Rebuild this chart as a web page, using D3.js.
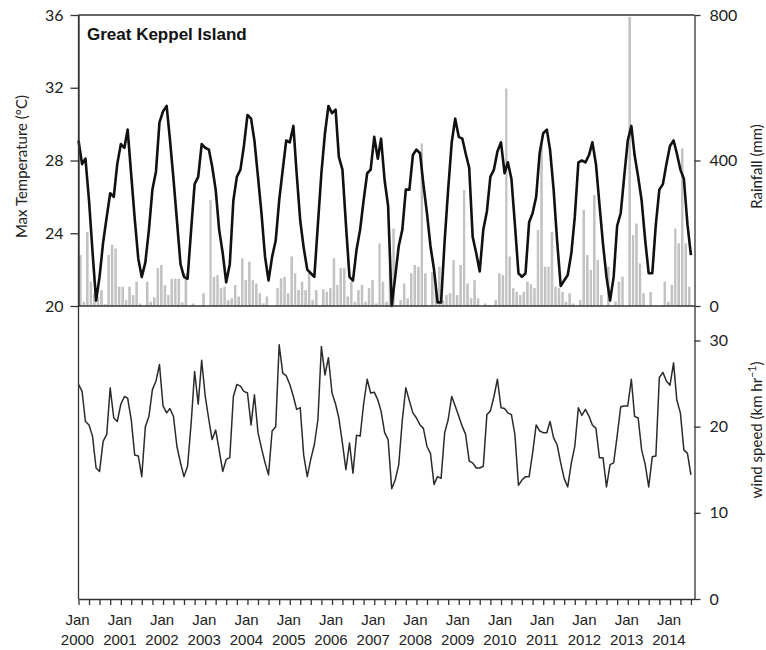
<!DOCTYPE html>
<html><head><meta charset="utf-8">
<script src="https://cdn.jsdelivr.net/npm/d3@7"></script>
<style>body{margin:0;background:#fff}</style>
</head><body>
<svg id="chart" width="766" height="650"></svg>
<script>
const startYear = 2000;
const maxTemp = [
29.1, 27.8, 28.1, 25.8, 23.0, 20.3, 21.6, 23.5, 24.9, 26.2, 26.0, 27.8,
28.9, 28.7, 29.7, 27.2, 24.8, 22.6, 21.6, 22.4, 24.2, 26.4, 27.4, 30.1,
30.7, 31.0, 29.2, 27.0, 24.7, 22.3, 21.6, 21.5, 24.2, 26.7, 27.1, 28.9,
28.7, 28.6, 27.7, 26.4, 24.2, 22.9, 21.3, 22.3, 25.8, 27.1, 27.5, 28.8,
30.5, 30.3, 29.1, 27.1, 25.1, 22.7, 21.4, 22.7, 23.6, 25.8, 27.5, 29.1,
29.0, 29.9, 27.3, 24.7, 23.2, 22.0, 21.8, 21.6, 24.5, 27.3, 29.5, 31.0,
30.6, 30.8, 28.2, 27.5, 24.5, 21.6, 21.4, 23.1, 24.2, 25.8, 27.3, 27.5,
29.3, 28.1, 29.2, 26.9, 25.5, 20.0, 21.6, 23.3, 24.2, 26.4, 26.4, 28.3,
28.6, 28.4, 26.7, 25.1, 23.3, 22.0, 20.2, 20.2, 23.6, 26.4, 29.0, 30.3,
29.3, 29.2, 28.4, 27.6, 23.8, 22.9, 21.9, 24.2, 25.2, 27.1, 27.5, 28.5,
29.0, 27.3, 27.9, 27.0, 24.5, 21.8, 21.6, 21.8, 24.6, 25.1, 26.0, 28.4,
29.5, 29.7, 28.6, 26.4, 23.6, 21.1, 21.4, 21.7, 22.9, 24.9, 27.9, 28.0,
27.9, 28.3, 29.0, 27.8, 25.6, 23.4, 21.6, 20.3, 21.6, 24.4, 25.1, 27.1,
29.1, 29.9, 28.3, 27.1, 25.8, 23.6, 21.8, 21.8, 24.5, 26.4, 26.7, 27.8,
28.8, 29.1, 28.4, 27.5, 27.0, 24.5, 22.8
];
const rainfall = [
140, 12, 204, 67, 35, 26, 44, 5, 140, 168, 158, 53,
53, 16, 53, 30, 67, 7, 0, 67, 12, 24, 104, 113,
57, 30, 75, 75, 75, 10, 90, 0, 7, 0, 0, 35,
0, 291, 80, 85, 49, 53, 16, 21, 58, 26, 131, 71,
122, 71, 62, 35, 7, 26, 0, 0, 49, 76, 80, 35,
136, 90, 44, 67, 44, 90, 16, 44, 0, 46, 39, 49,
131, 58, 104, 104, 26, 67, 12, 44, 58, 12, 49, 71,
7, 172, 67, 12, 104, 213, 0, 16, 62, 21, 90, 113,
108, 447, 90, 0, 94, 49, 108, 16, 30, 35, 126, 30,
113, 319, 62, 21, 71, 21, 0, 7, 3, 0, 16, 90,
85, 598, 136, 49, 39, 30, 39, 67, 60, 49, 209, 443,
108, 108, 204, 53, 49, 39, 12, 35, 7, 0, 16, 264,
140, 99, 305, 126, 30, 0, 108, 0, 12, 67, 81, 0,
795, 195, 227, 117, 35, 0, 39, 0, 0, 0, 67, 12,
58, 213, 172, 433, 172, 53, 0
];
const windSpeed = [
24.9, 24.1, 20.6, 20.2, 18.9, 15.2, 14.8, 18.3, 19.1, 24.5, 21.0, 20.6,
22.6, 23.5, 23.3, 20.8, 16.7, 16.6, 14.2, 20.0, 21.2, 24.3, 25.3, 27.2,
22.4, 21.6, 22.1, 21.2, 17.7, 15.8, 14.2, 15.4, 20.4, 26.4, 22.6, 27.7,
23.5, 20.8, 18.5, 19.6, 17.3, 14.8, 16.2, 16.4, 23.5, 24.9, 24.7, 24.1,
23.9, 20.2, 23.7, 19.3, 17.5, 15.8, 14.4, 19.5, 20.0, 29.5, 26.2, 25.9,
24.9, 23.5, 22.0, 22.2, 16.7, 14.2, 16.2, 17.9, 20.8, 29.3, 26.0, 28.0,
23.9, 22.6, 21.0, 18.1, 15.0, 18.1, 14.6, 19.0, 18.9, 22.6, 25.5, 23.9,
24.0, 23.1, 21.8, 19.3, 18.5, 12.8, 13.8, 15.6, 20.8, 24.5, 23.0, 21.6,
21.0, 20.2, 19.8, 17.7, 16.9, 13.3, 14.2, 14.0, 19.3, 20.8, 23.5, 22.4,
21.2, 20.0, 19.1, 16.0, 15.8, 15.2, 15.2, 15.4, 21.4, 21.8, 23.5, 25.5,
22.2, 22.1, 21.6, 21.4, 19.1, 13.2, 13.8, 14.2, 14.2, 16.9, 20.2, 19.5,
19.3, 19.3, 20.6, 18.7, 17.9, 15.8, 14.0, 13.0, 15.8, 17.7, 22.2, 21.3,
22.0, 21.2, 20.2, 19.8, 16.4, 16.4, 13.0, 15.6, 15.8, 18.9, 22.3, 22.4,
22.4, 25.5, 21.2, 21.0, 17.3, 15.6, 13.0, 16.5, 16.6, 25.7, 26.3, 25.3,
24.8, 27.4, 23.1, 21.6, 17.3, 16.9, 14.4
];
const tempTicks = [20, 24, 28, 32, 36];
const rainTicks = [0, 400, 800];
const windTicks = [0, 10, 20, 30];
const yearLabels = [2000, 2001, 2002, 2003, 2004, 2005, 2006, 2007, 2008, 2009, 2010, 2011, 2012, 2013, 2014];
const monthLabel = "Jan";
const title = "Great Keppel Island";

const dates = maxTemp.map((d, i) => new Date(startYear, i, 1));
const svg = d3.select("#chart");
const L = 78.5, R = 694.5, T = 15, M = 306, B = 599;
const axisColor = "#333";

const x = d3.scaleTime().domain([new Date(2000, 0, 1), new Date(2014, 7, 1)]).range([L, R]);
const yT = d3.scaleLinear().domain([20, 36]).range([M, T]);
const yR = d3.scaleLinear().domain([0, 800]).range([M, T]);
const yW = d3.scaleLinear().domain([0, 34]).range([B, M]);

// rainfall bars
svg.append("g").selectAll("rect").data(rainfall).join("rect")
  .attr("x", (d, i) => x(dates[i]) + 0.6)
  .attr("width", (d, i) => x(new Date(startYear, i + 1, 1)) - x(dates[i]) - 1.0)
  .attr("y", d => yR(d))
  .attr("height", d => M - yR(d))
  .attr("fill", "#c2c2c2");

// temperature line
svg.append("path").datum(maxTemp)
  .attr("fill", "none").attr("stroke", "#111").attr("stroke-width", 2.6)
  .attr("stroke-linejoin", "round")
  .attr("d", d3.line().x((d, i) => x(dates[i])).y(d => yT(d)));

// wind line
svg.append("path").datum(windSpeed)
  .attr("fill", "none").attr("stroke", "#2b2b2b").attr("stroke-width", 1.5)
  .attr("stroke-linejoin", "round")
  .attr("d", d3.line().x((d, i) => x(dates[i])).y(d => yW(d)));

function styleAxis(g, font, size) {
  g.selectAll("path,line").attr("stroke", axisColor).attr("stroke-width", 1.3);
  g.selectAll("text").attr("fill", "#222").style("font-family", font).style("font-size", size + "px");
}

// frame lines
svg.append("line").attr("x1", L).attr("x2", R).attr("y1", T).attr("y2", T).attr("stroke", axisColor).attr("stroke-width", 1.3);
svg.append("line").attr("x1", L).attr("x2", R).attr("y1", M).attr("y2", M).attr("stroke", axisColor).attr("stroke-width", 1.3);
svg.append("line").attr("x1", L).attr("x2", L).attr("y1", T).attr("y2", B).attr("stroke", axisColor).attr("stroke-width", 1.3);

const tfont = "Lato, 'Open Sans', sans-serif";

// left temperature axis
svg.append("g").attr("transform", `translate(${L},0)`)
  .call(d3.axisLeft(yT).tickValues(tempTicks).tickSize(8).tickSizeOuter(0).tickPadding(7))
  .call(g => styleAxis(g, tfont, 16));

// right rainfall axis
svg.append("g").attr("transform", `translate(${R},0)`)
  .call(d3.axisRight(yR).tickValues(rainTicks).tickSize(6).tickSizeOuter(0).tickPadding(9))
  .call(g => styleAxis(g, tfont, 16));

// right wind axis
svg.append("g").attr("transform", `translate(${R},0)`)
  .call(d3.axisRight(yW).tickValues(windTicks).tickSize(6).tickSizeOuter(0).tickPadding(9))
  .call(g => styleAxis(g, tfont, 16));

// bottom time axis
svg.append("g").attr("transform", `translate(0,${B})`)
  .call(d3.axisBottom(x).ticks(d3.timeMonth.every(3)).tickSize(6).tickSizeOuter(0).tickFormat(""))
  .call(g => styleAxis(g, "sans-serif", 12));

const yearDates = yearLabels.map(y => new Date(y, 0, 1));
const lab = svg.append("g").style("font-family", "'Liberation Sans', Arial, sans-serif").style("font-size", "15px").attr("fill", "#222");
lab.selectAll("text.m").data(yearDates).join("text").attr("class", "m")
  .attr("x", d => x(d) - 1).attr("y", 625).attr("text-anchor", "middle").text(monthLabel);
lab.selectAll("text.y").data(yearDates).join("text").attr("class", "y")
  .attr("x", d => x(d) - 1).attr("y", 645).attr("text-anchor", "middle").text(d => d.getFullYear());

// axis titles
svg.append("text").attr("transform", `translate(27,${(T + M) / 2 + 6}) rotate(-90)`)
  .attr("text-anchor", "middle").style("font-family", tfont).style("font-size", "15px").attr("fill", "#222")
  .text("Max Temperature (°C)");
svg.append("text").attr("transform", `translate(762,${(T + M) / 2 + 6}) rotate(-90)`)
  .attr("text-anchor", "middle").style("font-family", tfont).style("font-size", "15px").attr("fill", "#222")
  .text("Rainfall (mm)");
const wt = svg.append("text").attr("transform", `translate(762,${430}) rotate(-90)`)
  .attr("text-anchor", "middle").style("font-family", tfont).style("font-size", "15px").attr("fill", "#222");
wt.append("tspan").text("wind speed (km hr");
wt.append("tspan").attr("dy", -6).style("font-size", "10.5px").text("−1");
wt.append("tspan").attr("dy", 6).text(")");

// panel title
svg.append("text").attr("x", 87).attr("y", 40)
  .style("font-family", "'Liberation Sans', Arial, sans-serif").style("font-weight", "bold").style("font-size", "17px")
  .attr("fill", "#111").text(title);
</script>
</body></html>
